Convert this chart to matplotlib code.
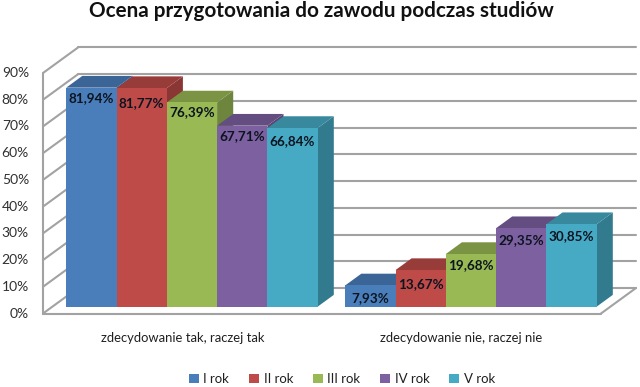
import numpy as np
import matplotlib
matplotlib.use('Agg')
import matplotlib.pyplot as plt
from matplotlib.patches import Polygon, Patch

categories = ["zdecydowanie tak, raczej tak", "zdecydowanie nie, raczej nie"]
years = ["I rok", "II rok", "III rok", "IV rok", "V rok"]
values_tak = [81.94, 81.77, 76.39, 67.71, 66.84]
values_nie = [7.93, 13.67, 19.68, 29.35, 30.85]
labels_tak = ["81,94%", "81,77%", "76,39%", "67,71%", "66,84%"]
labels_nie = ["7,93%", "13,67%", "19,68%", "29,35%", "30,85%"]
yticks = [0, 10, 20, 30, 40, 50, 60, 70, 80, 90]
colors = ["#4a7ebb", "#be4b48", "#98b954", "#7d60a0", "#46aac5"]

plt.rcParams['font.family'] = ['Lato', 'DejaVu Sans']

W, H = 640, 387
fig = plt.figure(figsize=(6.4, 3.87), dpi=100)
ax = fig.add_axes([43 / W, (H - 313.5) / H, 558 / W, 240.5 / H])
ax.set_xlim(-0.5, 1.5)
ax.set_ylim(0, 90)
ax.axis('off')

# floor depth in data units
DX = 35 / 279
DY = 25.5 / 2.672
GRID = '#a2a2a2'


def shade(c, f):
    rgb = np.array(matplotlib.colors.to_rgb(c))
    return tuple(rgb * f)


def line(xs, ys, z=1, lw=1.5):
    ax.plot(xs, ys, color=GRID, lw=lw, zorder=z, clip_on=False, solid_capstyle='round')


# walls and floor
for v in yticks:
    line([-0.5 + DX, 1.5 + DX], [v + DY, v + DY])
    line([-0.5, -0.5 + DX], [v, v + DY])
line([-0.5, -0.5], [0, 90])
line([-0.5, 1.5], [0, 0], z=2)
line([1.5, 1.5 + DX], [0, DY], z=2)

# bars
bar_w = 50.3 / 279
d0, d1 = 0.27, 0.73
all_values = [values_tak, values_nie]
all_labels = [labels_tak, labels_nie]
drops = [[10, 15, 10, 10, 13], [13, 14, 11, 12, 12]]
for g in range(len(categories)):
    x0 = g + d0 * DX - bar_w * 2.5
    # sides and tops first, right to left, fronts go on top
    for i in reversed(range(len(years))):
        v = all_values[g][i]
        left = x0 + i * bar_w
        right = left + bar_w
        y0 = d0 * DY
        dx = (d1 - d0) * DX
        dy = (d1 - d0) * DY
        c = colors[i]
        ax.add_patch(Polygon([(right, y0), (right + dx, y0 + dy), (right + dx, y0 + dy + v), (right, y0 + v)],
                             fc=shade(c, 0.72), ec='none', zorder=3 + i * 0.1, clip_on=False))
        ax.add_patch(Polygon([(left, y0 + v), (right, y0 + v), (right + dx, y0 + dy + v), (left + dx, y0 + dy + v)],
                             fc=shade(c, 0.8), ec='none', zorder=3 + i * 0.1, clip_on=False))
    for i in range(len(years)):
        v = all_values[g][i]
        left = x0 + i * bar_w
        y0 = d0 * DY
        ax.add_patch(Polygon([(left, y0), (left + bar_w, y0), (left + bar_w, y0 + v), (left, y0 + v)],
                             fc=colors[i], ec='none', zorder=4, clip_on=False))
        ax.text(left + bar_w / 2, y0 + v - drops[g][i] / 2.672, all_labels[g][i], ha='center', va='center',
                fontsize=9.7, fontweight='bold', color='#0c1420', zorder=5)

# tick labels
for v in yticks:
    ax.text(-0.5 - 14 / 279, v, f"{v}%", ha='right', va='center', fontsize=10, color='#303030', clip_on=False)
for g, name in enumerate(categories):
    ax.text(g + 0.0, -9, name, ha='center', va='center', fontsize=9.4, color='#202020')

fig.text(321 / W, 1 - 11 / H, "Ocena przygotowania do zawodu podczas studiów", ha='center', va='center',
         fontsize=14.85, fontweight='bold', color='#111111')

handles = [Patch(fc=c, ec='none') for c in colors]
fig.legend(handles, years, ncol=5, loc='center', bbox_to_anchor=(342 / W, 1 - 379 / H), frameon=False,
           fontsize=9.5, handlelength=0.75, handleheight=0.75, handletextpad=0.35, columnspacing=1.5,
           labelcolor='#202020')

fig.savefig('out.png', dpi=100)
